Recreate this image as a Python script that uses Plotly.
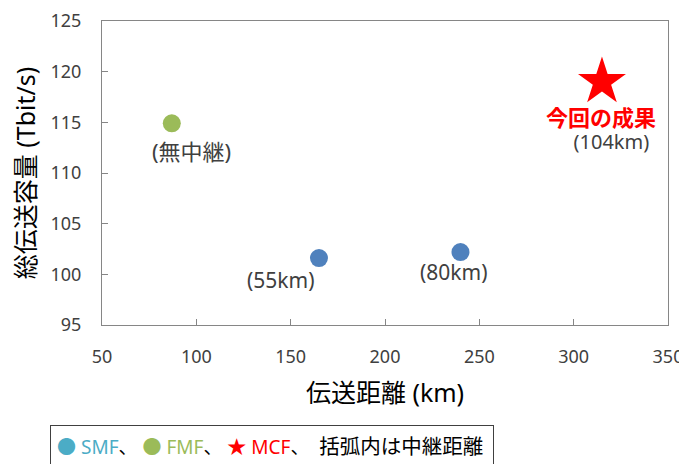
import plotly.graph_objects as go

# data
smf_dist = [165, 240]
smf_cap = [101.6, 102.2]
smf_labels = ["(55km)", "(80km)"]
fmf_dist = [87]
fmf_cap = [114.9]
fmf_labels = ["(無中継)"]
mcf_dist = [315]
mcf_cap = [119.0]
mcf_labels = ["今回の成果", "(104km)"]

x_ticks = [50, 100, 150, 200, 250, 300, 350]
y_ticks = [95, 100, 105, 110, 115, 120, 125]

FONT = "Noto Sans, Noto Sans CJK JP"
TXT = "#404040"

fig = go.Figure()
fig.add_trace(go.Scatter(x=smf_dist, y=smf_cap, mode="markers",
                         marker=dict(color="#4F81BD", size=18), showlegend=False))
fig.add_trace(go.Scatter(x=fmf_dist, y=fmf_cap, mode="markers",
                         marker=dict(color="#9BBB59", size=18), showlegend=False))
fig.add_trace(go.Scatter(x=mcf_dist, y=mcf_cap, mode="markers",
                         marker=dict(color="#FF0000", size=36, symbol="star"), showlegend=False))

ann = []
# label offsets (px)
smf_off = [(-38, -22), (-7, -20)]
for xv, yv, t, (dx, dy) in zip(smf_dist, smf_cap, smf_labels, smf_off):
    ann.append(dict(x=xv, y=yv, text=t, showarrow=False, xshift=dx, yshift=dy,
                    font=dict(size=21, color=TXT, family=FONT)))
for xv, yv, t in zip(fmf_dist, fmf_cap, fmf_labels):
    ann.append(dict(x=xv, y=yv, text=t, showarrow=False, xshift=20, yshift=-28,
                    font=dict(size=22, color=TXT, family=FONT)))
mcf_text = ("<span style='color:#FF0000;font-size:22px'><b>" + mcf_labels[0] + "</b></span><br>"
            "<span style='color:#404040;font-size:20px'>&nbsp;&nbsp;&nbsp;&nbsp;"
            + mcf_labels[1] + "</span>")
ann.append(dict(x=mcf_dist[0], y=mcf_cap[0], text=mcf_text, showarrow=False, align="center",
                xshift=-1, yshift=-47, font=dict(size=18, color=TXT, family=FONT)))

legend_text = ("<span style='color:#4BACC6'>●</span> <span style='color:#4BACC6'>SMF</span>"
               "<span style='color:#000'>、&nbsp;</span>"
               "<span style='color:#9BBB59'>●</span> <span style='color:#9BBB59'>FMF</span>"
               "<span style='color:#000'>、&nbsp;</span>"
               "<span style='color:#FF0000'>★</span> <span style='color:#FF0000'>MCF</span>"
               "<span style='color:#000'>、&nbsp;&nbsp;</span>"
               "<span style='color:#000;font-size:20.5px'>括弧内は中継距離</span>")
ann.append(dict(xref="paper", yref="paper", x=(50 - 102) / 566, y=(325 - 425) / 304,
                xanchor="left", yanchor="top", text=legend_text, showarrow=False,
                align="left", bordercolor="#404040", borderwidth=1, borderpad=6,
                width=430, height=52, valign="top",
                font=dict(size=19, color="#000", family=FONT)))

axis_common = dict(showline=True, linecolor="#868686", linewidth=1, mirror=True,
                   ticks="inside", ticklen=6, tickcolor="#868686", showgrid=False,
                   zeroline=False, automargin=False,
                   tickfont=dict(size=18, color=TXT, family=FONT))

# page body has an 8px margin, so the figure is drawn 8px in from the top-left
fig.update_layout(
    width=679, height=456,
    margin=dict(l=94, r=19, t=13, b=139),
    plot_bgcolor="white", paper_bgcolor="white",
    xaxis=dict(range=[50, 350], tickvals=x_ticks, ticktext=[str(v) for v in x_ticks],
               title=dict(text="伝送距離 (km)", standoff=17,
                          font=dict(size=25, color="#000", family=FONT)),
               ticklabelstandoff=15, **axis_common),
    yaxis=dict(range=[95, 125], tickvals=y_ticks, ticktext=[str(v) for v in y_ticks],
               title=dict(text="総伝送容量 (Tbit/s)", standoff=15,
                          font=dict(size=25, color="#000", family=FONT)),
               ticklabelstandoff=16, **axis_common),
    annotations=ann,
)
fig.write_html("out.html")
